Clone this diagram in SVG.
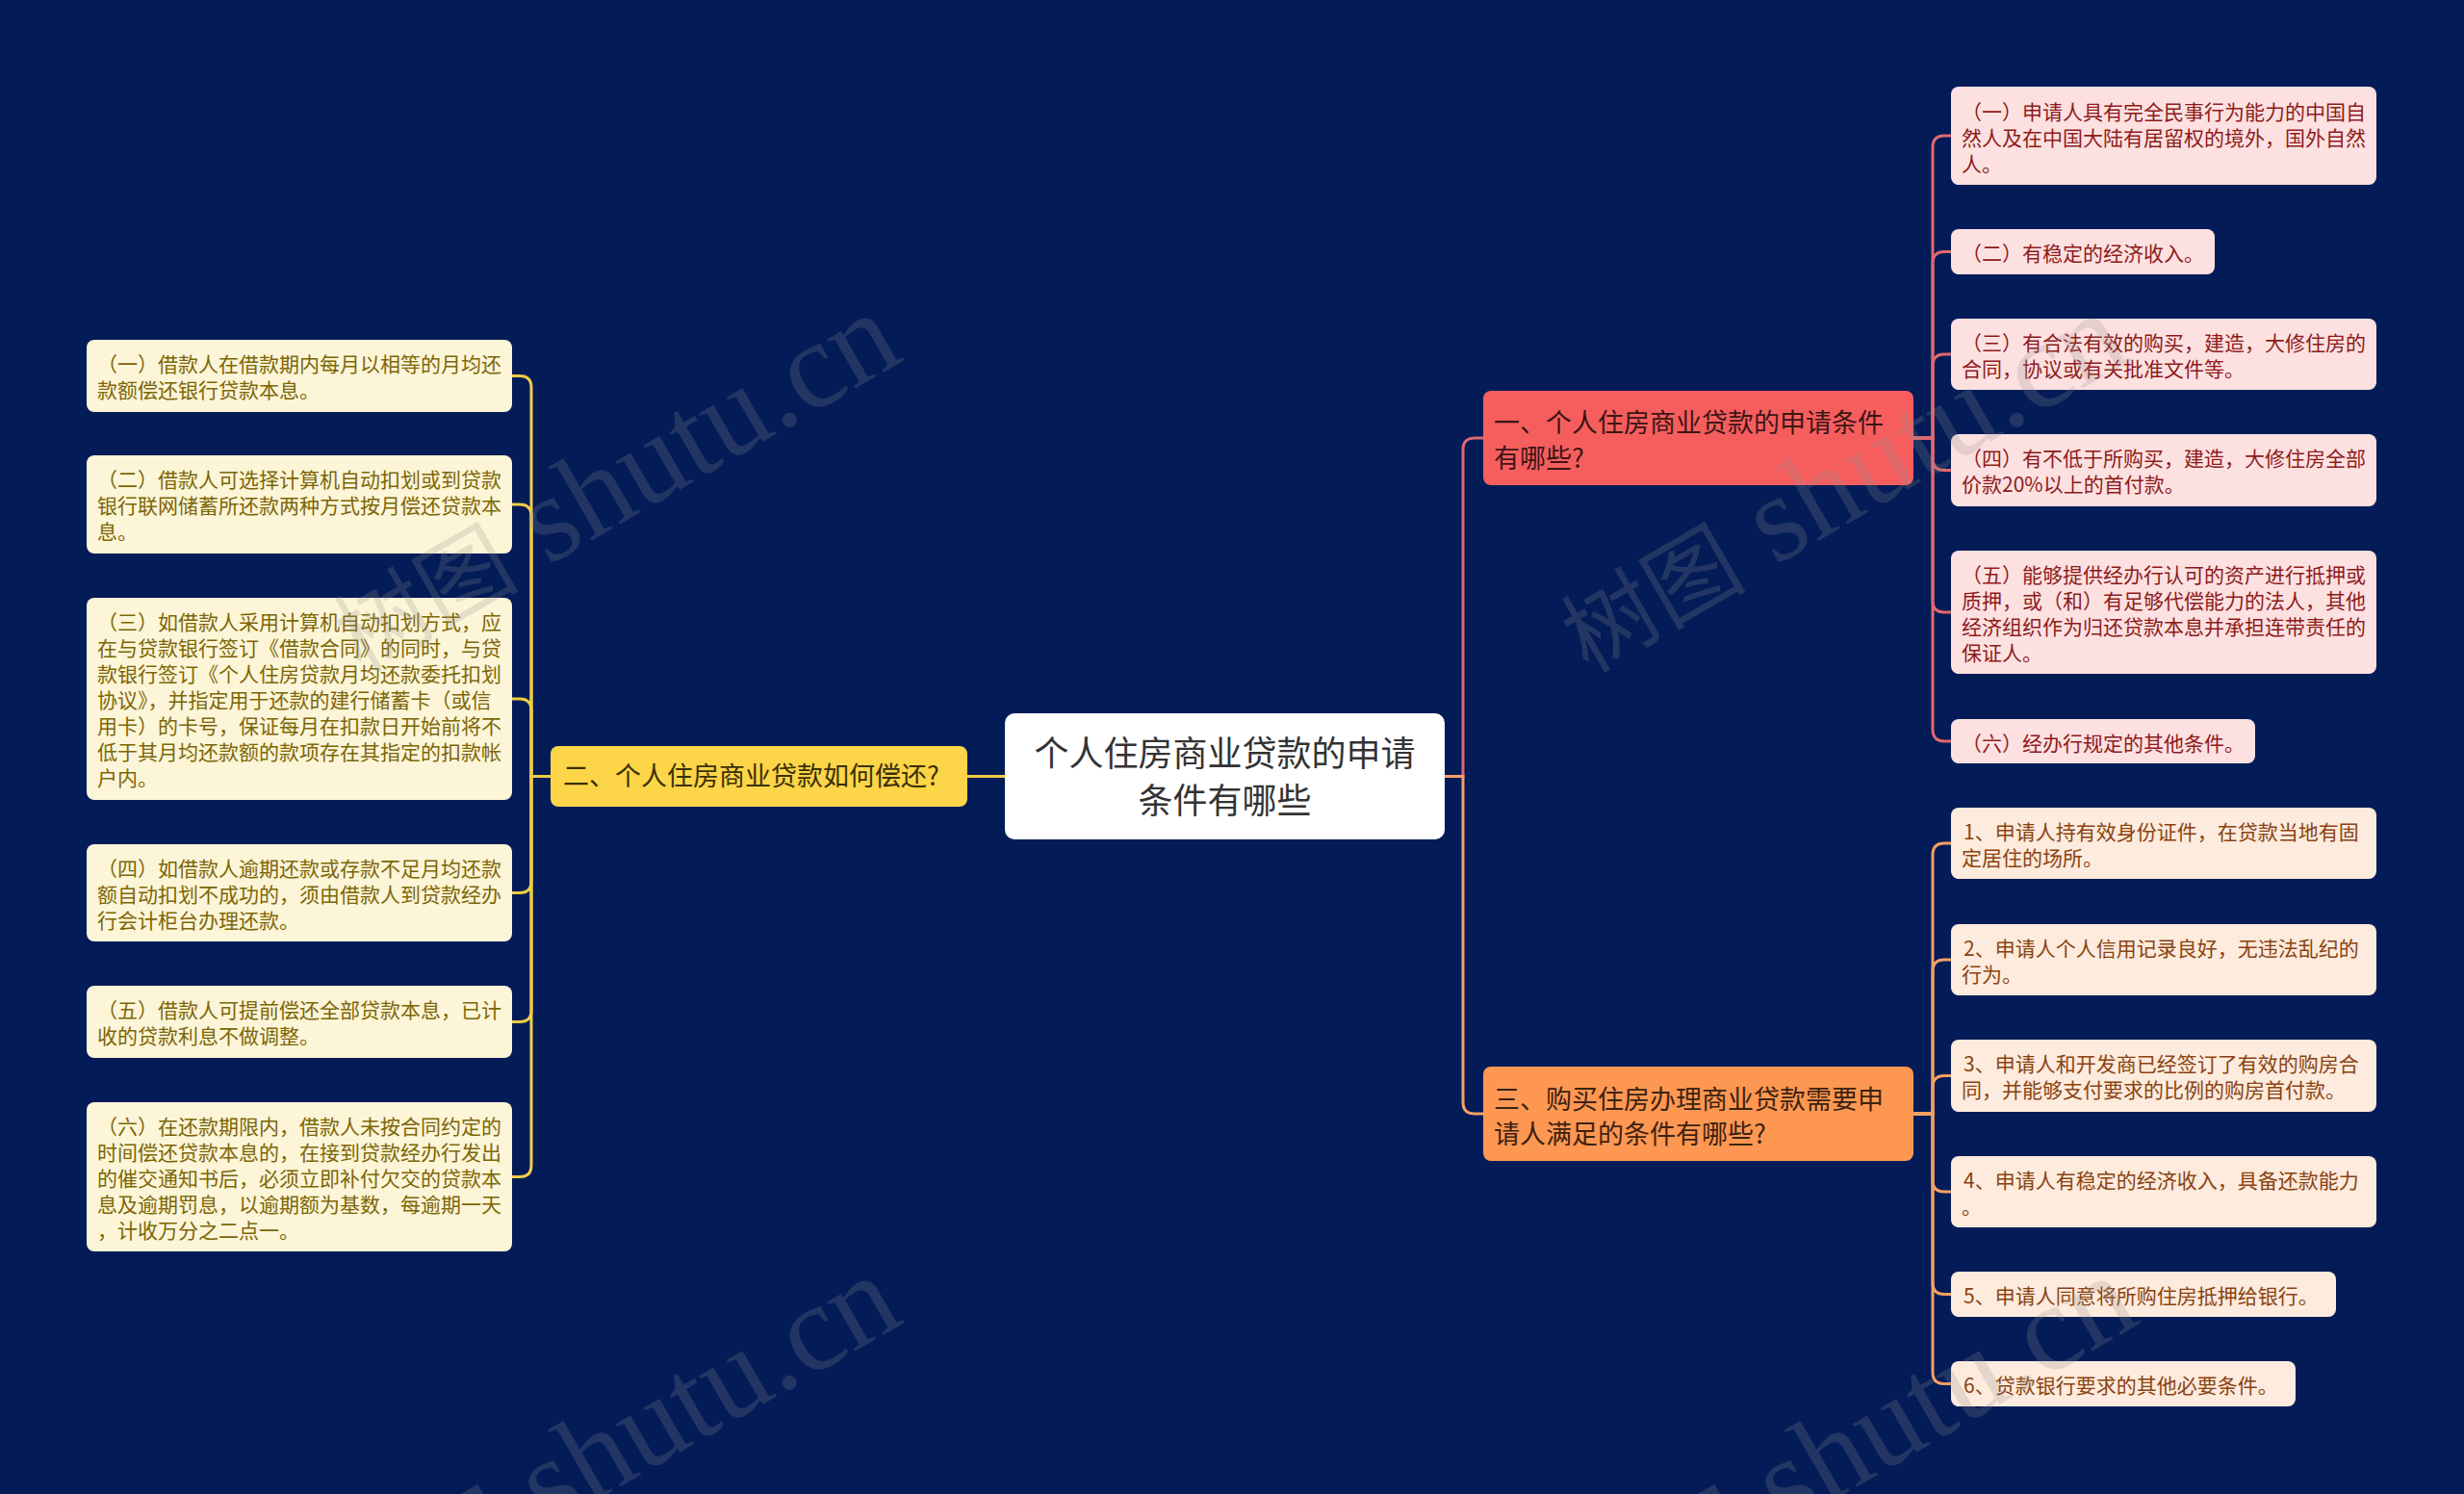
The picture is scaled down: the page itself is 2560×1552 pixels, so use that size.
<svg xmlns="http://www.w3.org/2000/svg" width="2560" height="1552" viewBox="0 0 2560 1552">
<style>
text{font-family:"Noto Sans CJK SC","Noto Sans",sans-serif}
.leaf{font-size:21px}
.main{font-size:27px}
.conn{fill:none;stroke-width:3;stroke-linecap:round}
.cp{stroke:#e0686f}
.co{stroke:#f4a063}
.cy{stroke:#f0cd45}
.lr rect{fill:#fde1e1}
.lr text{fill:#8e1a1a}
.lo rect{fill:#fdebdd}
.lo text{fill:#8a4210}
.ly rect{fill:#fdf5d8}
.ly text{fill:#7c6606}
.wm{font-family:"Liberation Serif","Noto Sans CJK SC",serif;font-size:128px;fill:#909090;opacity:0.22}
.wm tspan.cj{font-family:"Noto Sans CJK SC",sans-serif;font-size:96px}
</style>
<rect width="2560" height="1552" fill="#031b57"/>
<g id="connectors">
<path class="conn cy" d="M1044,806.5 H1005"/>
<path class="conn cp" d="M1501,806.5 H1520 V467 Q1520,455 1532,455 H1541"/>
<path class="conn co" d="M1501,806.5 H1520 V1145 Q1520,1157 1532,1157 H1541"/>
<path class="conn cp" d="M1988,455 H2008 V153 Q2008,141 2020,141 H2027"/>
<path class="conn cp" d="M1988,455 H2008 V273.5 Q2008,261.5 2020,261.5 H2027"/>
<path class="conn cp" d="M1988,455 H2008 V380 Q2008,368 2020,368 H2027"/>
<path class="conn cp" d="M1988,455 H2008 V476.5 Q2008,488.5 2020,488.5 H2027"/>
<path class="conn cp" d="M1988,455 H2008 V624 Q2008,636 2020,636 H2027"/>
<path class="conn cp" d="M1988,455 H2008 V758 Q2008,770 2020,770 H2027"/>
<path class="conn co" d="M1988,1157 H2008 V888 Q2008,876 2020,876 H2027"/>
<path class="conn co" d="M1988,1157 H2008 V1009 Q2008,997 2020,997 H2027"/>
<path class="conn co" d="M1988,1157 H2008 V1129.5 Q2008,1117.5 2020,1117.5 H2027"/>
<path class="conn co" d="M1988,1157 H2008 V1226 Q2008,1238 2020,1238 H2027"/>
<path class="conn co" d="M1988,1157 H2008 V1332.5 Q2008,1344.5 2020,1344.5 H2027"/>
<path class="conn co" d="M1988,1157 H2008 V1425.5 Q2008,1437.5 2020,1437.5 H2027"/>
<path class="conn cy" d="M572,806.5 H552 V402.5 Q552,390.5 540,390.5 H532"/>
<path class="conn cy" d="M572,806.5 H552 V536 Q552,524 540,524 H532"/>
<path class="conn cy" d="M572,806.5 H552 V738 Q552,726 540,726 H532"/>
<path class="conn cy" d="M572,806.5 H552 V915.5 Q552,927.5 540,927.5 H532"/>
<path class="conn cy" d="M572,806.5 H552 V1049.5 Q552,1061.5 540,1061.5 H532"/>
<path class="conn cy" d="M572,806.5 H552 V1210.5 Q552,1222.5 540,1222.5 H532"/>
</g>
<g id="center">
<rect x="1044" y="741" width="457" height="131" rx="10" fill="#ffffff"/>
<text x="1272.5" y="796" font-size="36" fill="#333333" text-anchor="middle">个人住房商业贷款的申请</text>
<text x="1272.5" y="845" font-size="36" fill="#333333" text-anchor="middle">条件有哪些</text>
</g>
<g id="node1">
<rect x="1541" y="406" width="447" height="98" rx="8" fill="#f65e5e"/>
<text class="main" x="1552" y="449" fill="#3d1515">一、个人住房商业贷款的申请条件</text>
<text class="main" x="1552" y="486" fill="#3d1515">有哪些?</text>
</g>
<g id="node2">
<rect x="572" y="775" width="433" height="63" rx="8" fill="#fdd548"/>
<text class="main" x="585" y="816" fill="#3b3005">二、个人住房商业贷款如何偿还?</text>
</g>
<g id="node3">
<rect x="1541" y="1108" width="447" height="98" rx="8" fill="#fd9752"/>
<text class="main" x="1552" y="1152" fill="#3d2211">三、购买住房办理商业贷款需要申</text>
<text class="main" x="1552" y="1188" fill="#3d2211">请人满足的条件有哪些?</text>
</g>
<g id="r1" class="lr leaf">
<rect x="2027" y="90" width="442" height="102" rx="8"/>
<text x="2038" y="124">（一）申请人具有完全民事行为能力的中国自</text>
<text x="2038" y="151">然人及在中国大陆有居留权的境外，国外自然</text>
<text x="2038" y="178">人。</text>
</g>
<g id="r2" class="lr leaf">
<rect x="2027" y="238" width="274" height="47" rx="8"/>
<text x="2038" y="271">（二）有稳定的经济收入。</text>
</g>
<g id="r3" class="lr leaf">
<rect x="2027" y="331" width="442" height="74" rx="8"/>
<text x="2038" y="364">（三）有合法有效的购买，建造，大修住房的</text>
<text x="2038" y="391">合同，协议或有关批准文件等。</text>
</g>
<g id="r4" class="lr leaf">
<rect x="2027" y="451" width="442" height="75" rx="8"/>
<text x="2038" y="484">（四）有不低于所购买，建造，大修住房全部</text>
<text x="2038" y="511">价款20%以上的首付款。</text>
</g>
<g id="r5" class="lr leaf">
<rect x="2027" y="572" width="442" height="128" rx="8"/>
<text x="2038" y="605">（五）能够提供经办行认可的资产进行抵押或</text>
<text x="2038" y="632">质押，或（和）有足够代偿能力的法人，其他</text>
<text x="2038" y="659">经济组织作为归还贷款本息并承担连带责任的</text>
<text x="2038" y="686">保证人。</text>
</g>
<g id="r6" class="lr leaf">
<rect x="2027" y="747" width="316" height="46" rx="8"/>
<text x="2038" y="780">（六）经办行规定的其他条件。</text>
</g>
<g id="s1" class="lo leaf">
<rect x="2027" y="839" width="442" height="74" rx="8"/>
<text x="2040" y="872">1、申请人持有效身份证件，在贷款当地有固</text>
<text x="2038" y="899">定居住的场所。</text>
</g>
<g id="s2" class="lo leaf">
<rect x="2027" y="960" width="442" height="74" rx="8"/>
<text x="2040" y="993">2、申请人个人信用记录良好，无违法乱纪的</text>
<text x="2038" y="1020">行为。</text>
</g>
<g id="s3" class="lo leaf">
<rect x="2027" y="1080" width="442" height="75" rx="8"/>
<text x="2040" y="1113">3、申请人和开发商已经签订了有效的购房合</text>
<text x="2038" y="1140">同，并能够支付要求的比例的购房首付款。</text>
</g>
<g id="s4" class="lo leaf">
<rect x="2027" y="1201" width="442" height="74" rx="8"/>
<text x="2040" y="1234">4、申请人有稳定的经济收入，具备还款能力</text>
<text x="2038" y="1261">。</text>
</g>
<g id="s5" class="lo leaf">
<rect x="2027" y="1321" width="400" height="47" rx="8"/>
<text x="2040" y="1354">5、申请人同意将所购住房抵押给银行。</text>
</g>
<g id="s6" class="lo leaf">
<rect x="2027" y="1414" width="358" height="47" rx="8"/>
<text x="2040" y="1447">6、贷款银行要求的其他必要条件。</text>
</g>
<g id="l1" class="ly leaf">
<rect x="90" y="353" width="442" height="75" rx="8"/>
<text x="101" y="386">（一）借款人在借款期内每月以相等的月均还</text>
<text x="101" y="413">款额偿还银行贷款本息。</text>
</g>
<g id="l2" class="ly leaf">
<rect x="90" y="473" width="442" height="102" rx="8"/>
<text x="101" y="506">（二）借款人可选择计算机自动扣划或到贷款</text>
<text x="101" y="533">银行联网储蓄所还款两种方式按月偿还贷款本</text>
<text x="101" y="560">息。</text>
</g>
<g id="l3" class="ly leaf">
<rect x="90" y="621" width="442" height="210" rx="8"/>
<text x="101" y="654">（三）如借款人采用计算机自动扣划方式，应</text>
<text x="101" y="681">在与贷款银行签订《借款合同》的同时，与贷</text>
<text x="101" y="708">款银行签订《个人住房贷款月均还款委托扣划</text>
<text x="101" y="735">协议》，并指定用于还款的建行储蓄卡（或信</text>
<text x="101" y="762">用卡）的卡号，保证每月在扣款日开始前将不</text>
<text x="101" y="789">低于其月均还款额的款项存在其指定的扣款帐</text>
<text x="101" y="816">户内。</text>
</g>
<g id="l4" class="ly leaf">
<rect x="90" y="877" width="442" height="101" rx="8"/>
<text x="101" y="910">（四）如借款人逾期还款或存款不足月均还款</text>
<text x="101" y="937">额自动扣划不成功的，须由借款人到贷款经办</text>
<text x="101" y="964">行会计柜台办理还款。</text>
</g>
<g id="l5" class="ly leaf">
<rect x="90" y="1024" width="442" height="75" rx="8"/>
<text x="101" y="1057">（五）借款人可提前偿还全部贷款本息，已计</text>
<text x="101" y="1084">收的贷款利息不做调整。</text>
</g>
<g id="l6" class="ly leaf">
<rect x="90" y="1145" width="442" height="155" rx="8"/>
<text x="101" y="1178">（六）在还款期限内，借款人未按合同约定的</text>
<text x="101" y="1205">时间偿还贷款本息的，在接到贷款经办行发出</text>
<text x="101" y="1232">的催交通知书后，必须立即补付欠交的贷款本</text>
<text x="101" y="1259">息及逾期罚息，以逾期额为基数，每逾期一天</text>
<text x="101" y="1286">，计收万分之二点一。</text>
</g>
<g id="watermark">
<text class="wm" transform="translate(375,700) rotate(-30)"><tspan class="cj">树图</tspan> shutu.cn</text>
<text class="wm" transform="translate(1650,700) rotate(-30)"><tspan class="cj">树图</tspan> shutu.cn</text>
<text class="wm" transform="translate(375,1700) rotate(-30)"><tspan class="cj">树图</tspan> shutu.cn</text>
<text class="wm" transform="translate(1660,1700) rotate(-30)"><tspan class="cj">树图</tspan> shutu.cn</text>
</g>
</svg>
